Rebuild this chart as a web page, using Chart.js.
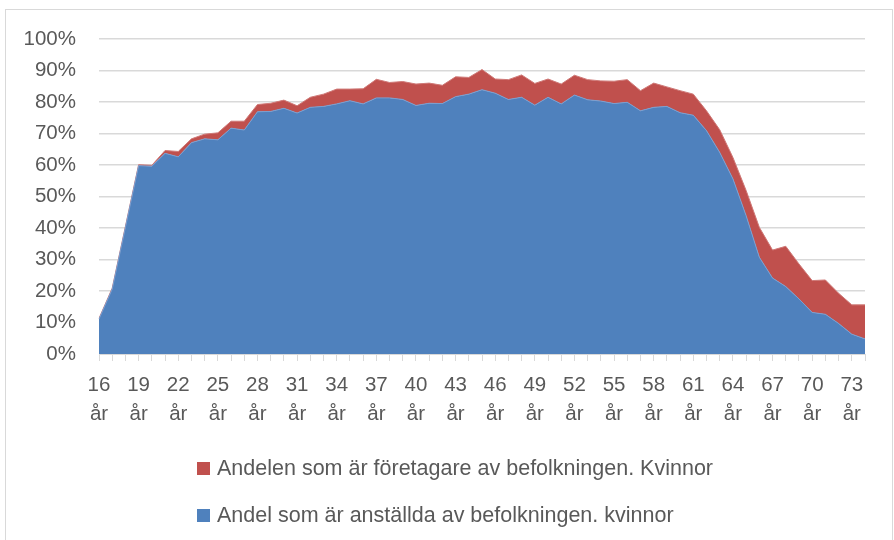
<!DOCTYPE html>
<html>
<head>
<meta charset="utf-8">
<script src="https://cdn.jsdelivr.net/npm/chart.js@4.4.1/dist/chart.umd.min.js"></script>
<style>
    html, body { margin: 0; padding: 0; background: #ffffff; }
    #wrap { position: relative; width: 894px; height: 540px; overflow: hidden; }
    #frame { position: absolute; left: 5px; top: 9px; width: 888px; height: 560px; border: 1px solid #d9d9d9; box-sizing: border-box; }
    canvas { position: absolute; left: 0; top: 0; }
    .legend { position: absolute; left: 197px; font-family: 'Liberation Sans', Arial, sans-serif; font-size: 21.5px; color: #595959; white-space: nowrap; }
    .legend span { display: inline-block; width: 13px; height: 13px; margin-right: 7px; vertical-align: 0px; }
</style>
</head>
<body>
<div id="wrap">
    <div id="frame"></div>
    <canvas id="chart" width="894" height="540"></canvas>
    <div class="legend" id="legend-red" style="top: 456px;"><span style="background:#c0504d"></span>Andelen som är företagare av befolkningen. Kvinnor</div>
    <div class="legend" id="legend-blue" style="top: 503px;"><span style="background:#4f81bd"></span>Andel som är anställda av befolkningen. kvinnor</div>
</div>
<script>
// Ages 16..74
const ages = [16, 17, 18, 19, 20, 21, 22, 23, 24, 25, 26, 27, 28, 29, 30, 31, 32, 33, 34, 35,
    36, 37, 38, 39, 40, 41, 42, 43, 44, 45, 46, 47, 48, 49, 50, 51, 52, 53, 54, 55,
    56, 57, 58, 59, 60, 61, 62, 63, 64, 65, 66, 67, 68, 69, 70, 71, 72, 73, 74];

// Andel anställda (kvinnor), %
const employed = [11.1, 20.6, 40.2, 59.8, 59.6, 63.7, 62.6, 67.1, 68.3, 68.0,
    71.7, 71.1, 76.9, 77.0, 78.0, 76.5, 78.3, 78.6, 79.4, 80.4,
    79.4, 81.3, 81.3, 80.8, 78.9, 79.6, 79.5, 81.7, 82.5, 83.9,
    82.8, 80.8, 81.5, 79.0, 81.5, 79.4, 82.2, 80.7, 80.3, 79.5,
    79.9, 77.2, 78.3, 78.6, 76.6, 75.8, 70.9, 64.0, 55.6, 43.9,
    30.7, 24.1, 21.4, 17.5, 13.2, 12.6, 9.7, 6.3, 4.8];

// Andel företagare (kvinnor), %
const selfEmployed = [0.2, 0.3, 0.3, 0.3, 0.3, 0.9, 1.7, 1.2, 1.5, 2.2,
    2.2, 2.8, 2.3, 2.6, 2.6, 2.3, 3.2, 3.9, 4.7, 3.7,
    4.8, 5.9, 4.9, 5.7, 6.8, 6.4, 5.8, 6.3, 5.3, 6.4,
    4.5, 6.3, 7.1, 6.9, 5.8, 6.3, 6.3, 6.4, 6.4, 7.1,
    7.2, 6.4, 7.7, 6.2, 7.0, 6.7, 6.3, 7.2, 6.8, 8.0,
    9.5, 8.9, 12.8, 11.1, 10.1, 10.9, 9.6, 9.3, 10.8];

const yTicks = [0, 10, 20, 30, 40, 50, 60, 70, 80, 90, 100];

const font = { family: "'Liberation Sans', Arial, sans-serif", size: 20.5 };

const ctx = document.getElementById('chart').getContext('2d');
const chart = new Chart(ctx, {
    type: 'line',
    data: {
        labels: ages.map(a => [String(a), 'år']),
        datasets: [
            {
                label: 'Andel som är anställda av befolkningen. kvinnor',
                data: employed,
                backgroundColor: '#4f81bd',
                borderColor: '#7c9fcf',
                borderWidth: 1,
                fill: 'origin',
                pointRadius: 0,
                tension: 0
            },
            {
                label: 'Andelen som är företagare av befolkningen. Kvinnor',
                data: selfEmployed,
                backgroundColor: '#c0504d',
                borderColor: '#cf7a78',
                borderWidth: 1,
                fill: '-1',
                pointRadius: 0,
                tension: 0
            }
        ]
    },
    options: {
        responsive: false,
        animation: false,
        layout: {
            padding: { top: 39, right: 29, bottom: 96, left: 0 }
        },
        plugins: {
            legend: { display: false },
            tooltip: { enabled: false }
        },
        scales: {
            x: {
                offset: false,
                grid: {
                    drawOnChartArea: false,
                    drawTicks: true,
                    tickLength: 7,
                    color: '#d9d9d9'
                },
                border: { color: '#d9d9d9' },
                ticks: {
                    autoSkip: false,
                    maxRotation: 0,
                    minRotation: 0,
                    padding: 10,
                    color: '#595959',
                    font: { family: font.family, size: font.size, lineHeight: 1.42 },
                    callback: function (value, index) {
                        return index % 3 === 0 ? this.getLabelForValue(value) : '';
                    }
                },
                afterFit: function (axis) { axis.height = 90; }
            },
            y: {
                stacked: true,
                min: 0,
                max: 100,
                afterBuildTicks: function (axis) {
                    axis.ticks = yTicks.map(v => ({ value: v }));
                },
                grid: {
                    color: '#d9d9d9',
                    lineWidth: 1.5,
                    drawTicks: false
                },
                border: { display: false },
                ticks: {
                    padding: 23,
                    color: '#595959',
                    font: font,
                    callback: function (value) {
                        return value + '%';
                    }
                },
                afterFit: function (axis) { axis.width = 99; }
            }
        }
    }
});
</script>
</body>
</html>
